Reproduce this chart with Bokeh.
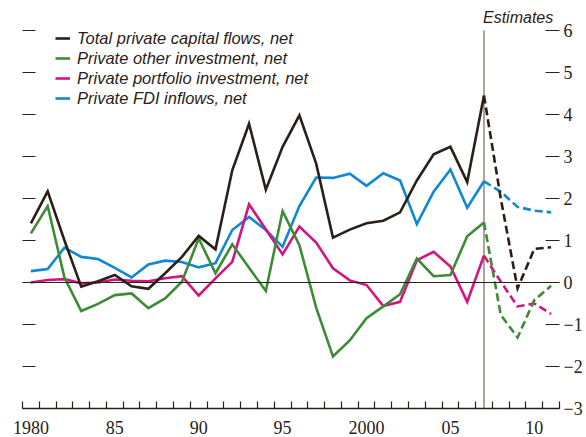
from bokeh.plotting import figure
from bokeh.models import (ColumnDataSource, LinearAxis, FixedTicker, Span, Label,
                          Legend, LegendItem, Range1d)
from bokeh.embed import file_html
from bokeh.resources import INLINE

# ---------------- data ----------------
years_hist = list(range(1980, 2008))          # 1980 .. 2007 (actual)
years_est = [2007, 2008, 2009, 2010, 2011]    # estimates (start at 2007 for continuity)

total_hist = [1.41, 2.17, 1.00, -0.10, 0.03, 0.18, -0.09, -0.15, 0.22, 0.61,
              1.11, 0.79, 2.67, 3.78, 2.21, 3.23, 3.98, 2.83, 1.07, 1.26,
              1.41, 1.47, 1.67, 2.43, 3.05, 3.23, 2.39, 4.45]
total_est = [4.45, 2.00, -0.14, 0.80, 0.84]

other_hist = [1.17, 1.82, 0.12, -0.68, -0.51, -0.30, -0.26, -0.61, -0.38, 0.02,
              1.05, 0.22, 0.91, 0.35, -0.20, 1.70, 0.89, -0.60, -1.76, -1.38,
              -0.85, -0.57, -0.28, 0.57, 0.15, 0.18, 1.10, 1.43]
other_est = [1.43, -0.77, -1.31, -0.42, -0.08]

portfolio_hist = [0.00, 0.06, 0.08, -0.02, 0.00, 0.07, 0.04, 0.03, 0.10, 0.15,
                  -0.31, 0.10, 0.49, 1.86, 1.27, 0.67, 1.33, 0.95, 0.34, 0.05,
                  -0.06, -0.56, -0.46, 0.53, 0.73, 0.38, -0.46, 0.64]
portfolio_est = [0.64, 0.02, -0.57, -0.50, -0.75]

fdi_hist = [0.27, 0.32, 0.83, 0.61, 0.56, 0.35, 0.12, 0.43, 0.52, 0.49,
            0.36, 0.46, 1.25, 1.56, 1.25, 0.85, 1.82, 2.50, 2.49, 2.59,
            2.30, 2.60, 2.43, 1.39, 2.16, 2.69, 1.78, 2.41]
fdi_est = [2.41, 2.16, 1.80, 1.71, 1.67]

series_names = ["Total private capital flows, net",
                "Private other investment, net",
                "Private portfolio investment, net",
                "Private FDI inflows, net"]

estimate_start = 2007
x_tick_years = [1980, 1985, 1990, 1995, 2000, 2005, 2010]
x_tick_labels = ["1980", "85", "90", "95", "2000", "05", "10"]
y_ticks = [-3, -2, -1, 0, 1, 2, 3, 4, 5, 6]
y_tick_labels = ["\u22123", "\u22122", "\u22121", "0", "1", "2", "3", "4", "5", "6"]

# ---------------- style ----------------
C_BLACK = "#2a2018"
C_GREEN = "#3d8b37"
C_MAGENTA = "#d4147f"
C_BLUE = "#0e88d2"
C_VLINE = "#7d766c"
TICK_FONT = "Liberation Sans Narrow"
TEXT_FONT = "Liberation Sans"
LW = 2.6
DASH = "8 4"

p = figure(width=586, height=437, output_backend="svg", toolbar_location=None,
           x_range=Range1d(1979.5, 2011.5), y_range=Range1d(-3, 6.714),
           min_border_left=22, min_border_right=27, min_border_top=0,
           min_border_bottom=29)
p.outline_line_color = None
p.xgrid.visible = False
p.ygrid.visible = False
p.background_fill_color = "white"

# bottom axis
xa = p.xaxis[0]
xa.ticker = FixedTicker(ticks=x_tick_years,
                        minor_ticks=[y - 0.5 for y in range(1980, 2013)])
xa.major_label_overrides = {y: l for y, l in zip(x_tick_years, x_tick_labels)}
xa.major_tick_in = 0
xa.major_tick_out = 0
xa.minor_tick_in = 7
xa.minor_tick_out = 0
xa.minor_tick_line_color = C_BLACK
xa.minor_tick_line_width = 1.2
xa.axis_line_color = C_BLACK
xa.axis_line_width = 1.3
xa.major_label_text_font = TICK_FONT
xa.major_label_text_font_size = "18px"
xa.major_label_text_color = C_BLACK
xa.major_label_standoff = 12

# left axis: ticks only
ya = p.yaxis[0]
ya.ticker = FixedTicker(ticks=y_ticks)
ya.major_label_overrides = {t: "" for t in y_ticks}
ya.major_label_standoff = 0
ya.major_tick_in = 13
ya.major_tick_out = 0
ya.minor_tick_in = 0
ya.minor_tick_out = 0
ya.axis_line_color = None
ya.major_tick_line_color = C_BLACK
ya.major_tick_line_width = 1.2

# right axis with labels
ra = LinearAxis(ticker=FixedTicker(ticks=y_ticks))
ra.major_label_overrides = {t: l for t, l in zip(y_ticks, y_tick_labels)}
ra.major_tick_in = 14
ra.major_tick_out = 0
ra.minor_tick_in = 0
ra.minor_tick_out = 0
ra.axis_line_color = None
ra.major_tick_line_color = C_BLACK
ra.major_tick_line_width = 1.2
ra.major_label_text_font = TICK_FONT
ra.major_label_text_font_size = "18px"
ra.major_label_text_color = C_BLACK
ra.major_label_standoff = 4
p.add_layout(ra, "right")

# zero line and estimate divider
p.add_layout(Span(location=0, dimension="width", line_color=C_BLACK, line_width=1.2))
p.segment(x0=[estimate_start], y0=[-3], x1=[estimate_start], y1=[6],
          line_color=C_VLINE, line_width=1.3)
p.add_layout(Label(x=estimate_start, y=6, x_offset=-1, y_offset=13, text="Estimates",
                   text_font=TEXT_FONT, text_font_style="italic",
                   text_font_size="16px", text_color=C_BLACK,
                   text_baseline="alphabetic"))

hist = [total_hist, other_hist, portfolio_hist, fdi_hist]
est = [total_est, other_est, portfolio_est, fdi_est]
colors = [C_BLACK, C_GREEN, C_MAGENTA, C_BLUE]

# draw from back to front: FDI, portfolio, other, total on top
renderers = {}
for i in [3, 2, 1, 0]:
    src_h = ColumnDataSource(dict(x=years_hist, y=hist[i]))
    src_e = ColumnDataSource(dict(x=years_est, y=est[i]))
    r = p.line("x", "y", source=src_h, line_color=colors[i], line_width=LW,
               line_join="miter")
    p.line("x", "y", source=src_e, line_color=colors[i], line_width=LW,
           line_dash=DASH, line_join="miter")
    renderers[i] = r

legend = Legend(items=[LegendItem(label=series_names[i], renderers=[renderers[i]])
                       for i in range(4)],
                location=(33, 300), orientation="vertical")
legend.padding = 0
legend.margin = 0
legend.spacing = 0
legend.glyph_width = 15
legend.glyph_height = 20
legend.label_height = 20
legend.label_standoff = 7
legend.border_line_alpha = 0
legend.background_fill_alpha = 0
legend.label_text_font = TEXT_FONT
legend.label_text_font_style = "italic"
legend.label_text_font_size = "16.5px"
legend.label_text_color = C_BLACK
p.add_layout(legend, "center")

open("out.html", "w").write(file_html(p, INLINE))
